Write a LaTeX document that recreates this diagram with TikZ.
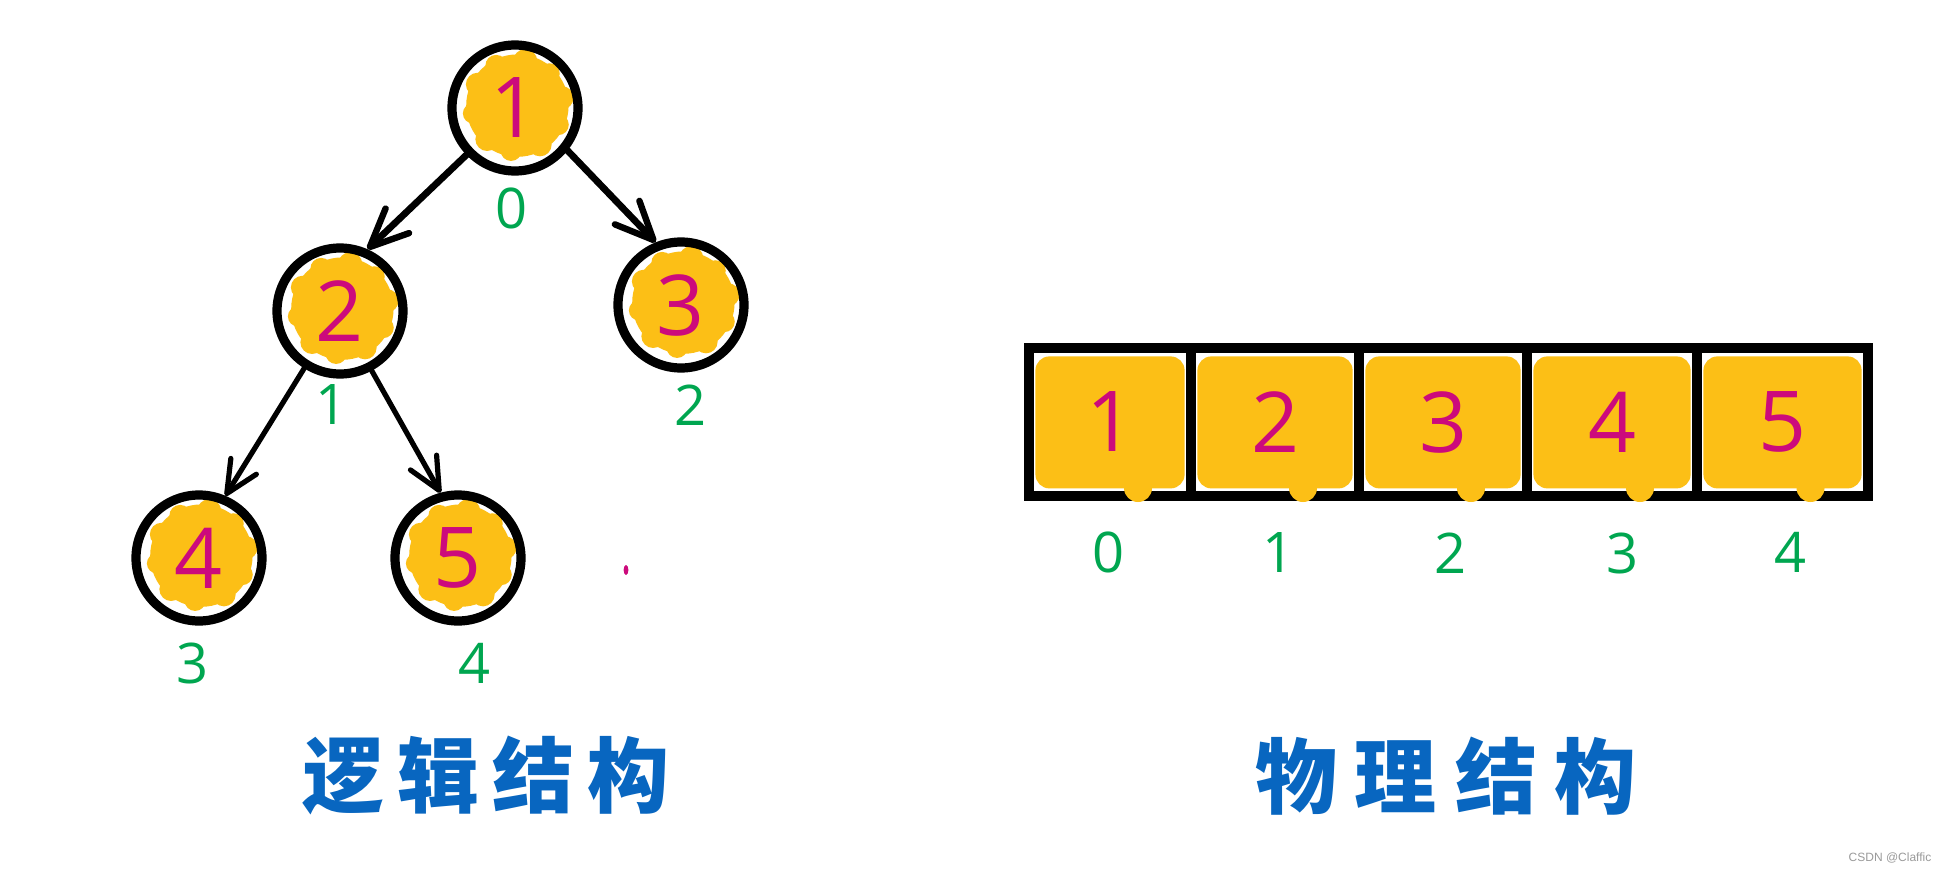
\documentclass[tikz,border=0pt]{standalone}
\usepackage{fontspec}
\newfontfamily\hand{Open Sans}
\newfontfamily\cjk{Noto Sans CJK SC}
\newfontfamily\wm{Liberation Sans}
\usetikzlibrary{arrows.meta}
\definecolor{yel}{HTML}{FCBF16}
\definecolor{pinkc}{HTML}{CC0A7C}
\definecolor{greenc}{HTML}{00A650}
\definecolor{bluec}{HTML}{0866C0}
\definecolor{wmgray}{HTML}{9A9A9A}
\begin{document}
\begin{tikzpicture}[x=0.5pt,y=0.5pt,
  treenode/.style={circle, draw=black, line width=4.6pt, minimum size=63pt, inner sep=0pt,
    text=pinkc, font=\hand\fontsize{42}{42}\selectfont,
    path picture={
      \coordinate (bc) at ([shift={(1.2pt,1.2pt)}]path picture bounding box.center);
      \fill[yel] (bc) circle (25.6pt);
      \foreach \a/\r in {10/5.8,45/5.2,80/6.0,118/5.4,152/5.8,190/5.0,228/5.9,262/5.3,300/5.8,335/5.2}
        \fill[yel] ([shift={(\a:22.6pt)}]bc) circle (\r pt);}},
  cellbox/.style={rectangle, draw=black, line width=5pt, line cap=round, minimum height=74pt, inner sep=0pt, outer sep=0pt,
    text=pinkc, font=\hand\fontsize{42}{42}\selectfont,
    path picture={
      \fill[yel, rounded corners=7pt] ([shift={(3.2pt,-4.2pt)}]path picture bounding box.north west) rectangle ([shift={(-3.2pt,3.8pt)}]path picture bounding box.south east);}},
  idx/.style={text=greenc, font=\hand\fontsize{28}{28}\selectfont, inner sep=0pt},
  title/.style={text=bluec, font=\cjk\bfseries\fontsize{41}{41}\selectfont, inner sep=0pt},
  arrtop/.style={line width=3.4pt, line cap=round, -{Straight Barb[length=19pt,width=17pt,line width=3.2pt,round]}},
  arrlow/.style={line width=2.6pt, line cap=round, -{Straight Barb[length=16pt,width=15pt,line width=2.6pt,round]}}
]
\fill[white] (0,0) rectangle (1947,-872);
\useasboundingbox (0,0) rectangle (1947,-872);

% tree
\node[treenode] (n1) at (515,-108) {1};
\node[treenode] (n2) at (340,-311) {2};
\node[treenode] (n3) at (681,-305) {3};
\node[treenode] (n4) at (199,-558) {4};
\node[treenode] (n5) at (458,-558) {5};

\draw[arrtop] (n1.224) -- (n2.66);
\draw[arrtop] (n1.321) -- (n3.112);
\draw[arrlow] (n2.238) -- (n4.67);
\draw[arrlow] (n2.298) -- (n5.105);

\node[idx] (i0) at (512,-208) {0};
\node[idx] (i1) at (332,-405) {1};
\node[idx] (i2) at (690,-405) {2};
\node[idx] (i3) at (193,-663) {3};
\node[idx] (i4) at (475,-663) {4};

\fill[pinkc] (626,-570) ellipse (1.2pt and 2.5pt);

% array
\node[cellbox, minimum width=81pt] (c0) at (1110,-422) {1};
\node[cellbox, minimum width=84pt] (c1) at (1275,-422) {2};
\node[cellbox, minimum width=84pt] (c2) at (1443,-422) {3};
\node[cellbox, minimum width=85pt] (c3) at (1612,-422) {4};
\node[cellbox, minimum width=85.5pt] (c4) at (1782.5,-422) {5};
\foreach \c in {c0,c1,c2,c3,c4}
  \fill[yel] ([shift={(14pt,4pt)}]\c.south) circle (7pt);

\node[idx] (a0) at (1108,-552) {0};
\node[idx] (a1) at (1278,-553) {1};
\node[idx] (a2) at (1450,-553) {2};
\node[idx] (a3) at (1622,-553) {3};
\node[idx] (a4) at (1790,-552) {4};

% titles
\node[title] (t1) at (486,-775) {逻\hspace{6.5pt}辑\hspace{6.5pt}结\hspace{6.5pt}构};
\node[title] (t2) at (1446,-776) {物\hspace{9pt}理\hspace{9pt}结\hspace{9pt}构};

\node[text=wmgray, font=\wm\fontsize{6}{6}\selectfont, inner sep=0pt] (wm) at (1890,-858) {CSDN @Claffic};
\end{tikzpicture}
\end{document}
